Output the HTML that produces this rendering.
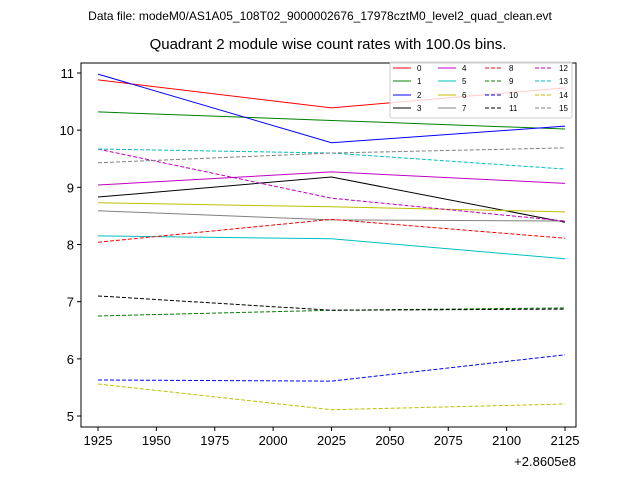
<!DOCTYPE html>
<html><head><meta charset="utf-8"><style>
body{margin:0;background:#fff;font-family:"Liberation Sans",sans-serif}
svg text{font-family:"Liberation Sans","DejaVu Sans",sans-serif}
</style></head><body>
<svg id="c" width="640" height="480" xmlns="http://www.w3.org/2000/svg">
<text x="320" y="20" font-size="12" text-anchor="middle">Data file: modeM0/AS1A05_108T02_9000002676_17978cztM0_level2_quad_clean.evt</text>
<text x="328" y="49" font-size="15" text-anchor="middle">Quadrant 2 module wise count rates with 100.0s bins.</text>
<rect x="81" y="63" width="495" height="364" fill="none" stroke="#000" stroke-width="1"/>
<g id="ticks"></g><g id="series"></g><g id="legend"></g>
<text x="576" y="466" font-size="13" text-anchor="end">+2.8605e8</text>
</svg>
<script>
const xs=[1925,2025,2125];
const xTicks=[1925,1950,1975,2000,2025,2050,2075,2100,2125];
const yTicks=[5,6,7,8,9,10,11];
const colors=['#ff0000','#008000','#0000ff','#000000','#bf00bf','#00bfbf','#bfbf00','#808080'];
const s0=[10.88,10.39,10.74],s1=[10.32,10.17,10.02],s2=[10.98,9.78,10.07],s3=[8.83,9.18,8.39];
const s4=[9.04,9.27,9.07],s5=[8.15,8.10,7.75],s6=[8.73,8.66,8.57],s7=[8.59,8.43,8.41];
const s8=[8.04,8.44,8.11],s9=[6.75,6.85,6.89],s10=[5.63,5.61,6.07],s11=[7.10,6.85,6.87];
const s12=[9.67,8.81,8.41],s13=[9.67,9.60,9.32],s14=[5.56,5.11,5.21],s15=[9.43,9.60,9.69];
const series=[s0,s1,s2,s3,s4,s5,s6,s7,s8,s9,s10,s11,s12,s13,s14,s15];
const X=v=>98+(v-1925)*(565-98)/200;
const Y=v=>416-(v-5)*(416-73)/6;
const NS='http://www.w3.org/2000/svg';
function mk(t,a,p){const e=document.createElementNS(NS,t);for(const k in a)e.setAttribute(k,a[k]);p.appendChild(e);return e;}
const tk=document.getElementById('ticks');
xTicks.forEach(t=>{
 const l=mk('line',{x1:X(t),x2:X(t),y1:427,y2:431,stroke:'#000'},tk);
 
 
 const tx=mk('text',{x:X(t),y:445,'font-size':13,'text-anchor':'middle'},tk);tx.textContent=t;
 
 
});
yTicks.forEach(t=>{
 const l=mk('line',{x1:77,x2:81,y1:Y(t),y2:Y(t),stroke:'#000'},tk);
 
 
 const tx=mk('text',{x:74,y:Y(t)+5,'font-size':13,'text-anchor':'end'},tk);tx.textContent=t;
 
 
});
const sg=document.getElementById('series');
series.forEach((s,i)=>{
 const a={points:s.map((v,j)=>X(xs[j])+','+Y(v)).join(' '),fill:'none',stroke:colors[i%8],'stroke-width':1};
 if(i>=8)a['stroke-dasharray']='4,2';
 const p=mk('polyline',a,sg);
 
 
});
const lg=document.getElementById('legend');
const box=mk('rect',{x:390,y:62,width:182,height:56,fill:'#fff','fill-opacity':0.8,stroke:'#ccc',rx:2},lg);


const colX=[393,438,485,535],rowY=[68,81,95,108];
series.forEach((s,i)=>{
 const c=Math.floor(i/4),r=i%4;
 const a={x1:colX[c],x2:colX[c]+18,y1:rowY[r],y2:rowY[r],stroke:colors[i%8],'stroke-width':1};
 if(i>=8)a['stroke-dasharray']='4,2';
 mk('line',a,lg);
 const t=mk('text',{x:colX[c]+24,y:rowY[r]+3,'font-size':8},lg);t.textContent=i;
 
 
});
</script>
</body></html>
